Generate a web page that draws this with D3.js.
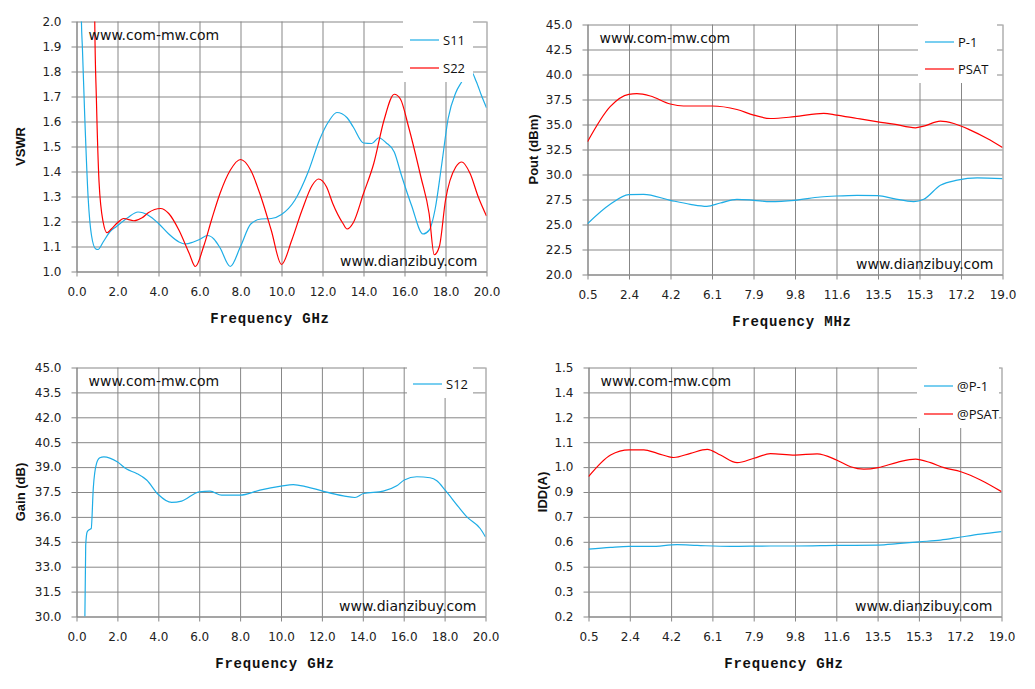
<!DOCTYPE html>
<html>
<head>
<meta charset="utf-8">
<script src="https://cdn.jsdelivr.net/npm/d3@7"></script>
<style>
body { margin: 0; background: #fff; }
svg { display: block; }
.tick text { font-family: "DejaVu Sans", sans-serif; font-size: 12px; fill: #222; }
.grid line, .axis line, .axis path { stroke: #878787; stroke-width: 1; }
.watermark { font-family: "DejaVu Sans", sans-serif; font-size: 14px; fill: #111; }
.legend-text { font-family: "Open Sans", sans-serif; font-size: 13px; fill: #111; }
.x-title { font-family: "Liberation Mono", monospace; font-weight: bold; font-size: 14px; letter-spacing: 0.8px; fill: #111; }
.y-title { font-family: "Liberation Sans", sans-serif; font-weight: bold; font-size: 13px; fill: #111; }
</style>
</head>
<body>
<div id="chart"></div>
<script>
// colours of the two series
var blue = "#1eade6";
var red = "#ff0000";

// ---- VSWR (top left) ----
var vswrTickLabels = ["0.0","2.0","4.0","6.0","8.0","10.0","12.0","14.0","16.0","18.0","20.0"];
var vswrYLabels = ["1.0","1.1","1.2","1.3","1.4","1.5","1.6","1.7","1.8","1.9","2.0"];
var s11Freq = [0.15,0.24,0.29,0.40,0.57,0.73,0.94,1.05,1.3,1.62,1.95,2.5,3.0,3.5,4.0,4.5,5.0,5.3,5.7,6.0,6.4,6.7,7.0,7.5,8.0,8.5,9.0,9.5,10.0,10.65,11.3,11.87,12.3,12.7,13.2,13.5,14.0,14.4,14.75,15.1,15.5,15.85,16.34,16.9,17.2,17.5,17.81,18.13,18.5,18.8,19.0,19.25,19.5,19.75,20.0];
var s11Vswr = [2.6,2.0,1.89,1.625,1.292,1.145,1.09,1.088,1.118,1.158,1.18,1.215,1.238,1.225,1.192,1.15,1.118,1.11,1.118,1.128,1.144,1.13,1.095,1.02,1.10,1.19,1.21,1.212,1.228,1.285,1.398,1.53,1.6,1.636,1.615,1.578,1.514,1.512,1.535,1.515,1.478,1.385,1.265,1.15,1.165,1.252,1.425,1.612,1.715,1.76,1.79,1.80,1.76,1.705,1.655];
var s22Freq = [0.85,0.89,0.97,1.1,1.3,1.49,1.7,2.0,2.3,2.8,3.2,3.5,4.1,4.5,5.0,5.5,5.8,6.2,6.6,7.0,7.5,8.0,8.5,9.0,9.5,10.0,10.5,11.0,11.5,11.8,12.2,12.5,13.0,13.2,13.5,14.0,14.5,15.0,15.5,15.8,16.2,16.8,17.2,17.45,17.7,18.0,18.5,18.8,19.2,19.6,20.0];
var s22Vswr = [2.6,2.0,1.692,1.358,1.198,1.155,1.17,1.195,1.212,1.203,1.215,1.235,1.252,1.232,1.165,1.072,1.02,1.10,1.21,1.312,1.405,1.448,1.405,1.298,1.165,1.028,1.125,1.245,1.345,1.37,1.338,1.272,1.192,1.17,1.195,1.312,1.432,1.605,1.709,1.69,1.578,1.378,1.232,1.067,1.10,1.285,1.418,1.438,1.392,1.298,1.222];

// ---- Pout (top right) ----
var mhzTickLabels = ["0.5","2.4","4.2","6.1","7.9","9.8","11.6","13.5","15.3","17.2","19.0"];
var poutYLabels = ["20.0","22.5","25.0","27.5","30.0","32.5","35.0","37.5","40.0","42.5","45.0"];
var psatFreq = [0.5,1.51,2.34,2.70,3.30,4.19,4.78,6.05,7.16,7.91,8.65,9.73,11.03,11.59,12.52,13.45,14.15,15.12,15.49,16.23,16.83,17.57,18.32,19.0];
var psatPout = [33.27,36.78,38.01,38.08,37.85,37.05,36.85,36.85,36.5,35.94,35.6,35.78,36.11,35.94,35.6,35.27,35.04,34.67,34.84,35.34,35.1,34.44,33.6,32.7];
var p1Freq = [0.5,1.51,2.34,3.0,4.19,5.08,5.82,6.42,7.16,7.91,8.65,9.73,10.88,11.59,12.52,13.45,14.15,15.04,15.49,16.23,16.98,17.87,19.0];
var p1Pout = [25.08,27.02,27.99,28.02,27.42,27.02,26.82,27.15,27.52,27.42,27.29,27.42,27.75,27.85,27.92,27.89,27.59,27.29,27.52,28.92,29.43,29.66,29.59];

// ---- Gain (bottom left) ----
var gainYLabels = ["30.0","31.5","33.0","34.5","36.0","37.5","39.0","40.5","42.0","43.5","45.0"];
var s12Freq = [0.41,0.45,0.52,0.62,0.72,0.82,0.98,1.14,1.34,1.99,2.45,2.94,3.43,4.0,4.65,5.14,6.0,6.53,7.1,7.99,8.97,10.0,10.6,11.26,12.0,13.05,13.62,14.03,15.0,15.66,16.03,16.64,17.29,17.62,18.03,18.68,19.09,19.74,20.0];
var s12Gain = [30.0,34.29,35.09,35.23,35.3,37.71,39.22,39.56,39.62,39.32,38.88,38.62,38.22,37.35,36.87,36.95,37.51,37.55,37.31,37.31,37.61,37.85,37.95,37.81,37.57,37.27,37.17,37.41,37.55,37.87,38.22,38.42,38.36,38.18,37.61,36.6,36.0,35.3,34.79];

// ---- IDD (bottom right) ----
var iddYLabels = ["0.2","0.3","0.5","0.6","0.7","0.9","1.0","1.1","1.2","1.4","1.5"];
var iddSatFreq = [0.5,1.49,2.32,2.98,3.58,4.32,5.07,5.82,6.41,7.16,7.91,8.65,9.74,10.74,11.61,12.24,12.83,13.48,14.33,15.15,15.82,16.42,17.18,18.06,19.0];
var iddSat = [0.930,1.043,1.070,1.070,1.052,1.030,1.052,1.073,1.043,1.003,1.026,1.050,1.043,1.049,1.017,0.982,0.969,0.977,1.005,1.022,1.003,0.977,0.956,0.913,0.852];
var iddP1Freq = [0.5,1.49,2.32,3.28,4.47,5.37,6.86,8.65,9.74,11.61,13.48,14.33,15.31,16.27,17.18,18.06,19.0];
var iddP1 = [0.552,0.561,0.566,0.566,0.575,0.571,0.566,0.568,0.568,0.571,0.573,0.580,0.590,0.599,0.615,0.630,0.643];

function zip(xs, ys) { return xs.map(function(d, i) { return [d, ys[i]]; }); }

var panels = [
  { id: "p1", left: 76.5, right: 486.5, top: 21.5, bottom: 271.5, xDomain: [0, 20], yDomain: [1, 2],
    xLabels: vswrTickLabels, yLabels: vswrYLabels, xTitle: "Frequency GHz", xTitleX: 270, yTitle: "VSWR", yTitleX: 20,
    series: [{ name: "S11", color: blue, data: zip(s11Freq, s11Vswr) }, { name: "S22", color: red, data: zip(s22Freq, s22Vswr) }],
    legend: { x: 403, w: 70, h: 61, lx: 410, ly: [40, 68] } },
  { id: "p2", left: 587.5, right: 1002.5, top: 24.5, bottom: 274.5, xDomain: [0.5, 19], yDomain: [20, 45],
    xLabels: mhzTickLabels, yLabels: poutYLabels, xTitle: "Frequency MHz", xTitleX: 792, yTitle: "Pout (dBm)", yTitleX: 533,
    series: [{ name: "P-1", color: blue, data: zip(p1Freq, p1Pout) }, { name: "PSAT", color: red, data: zip(psatFreq, psatPout) }],
    legend: { x: 918, w: 79, h: 59, lx: 925, ly: [42, 69] } },
  { id: "p3", left: 76.5, right: 485.5, top: 367.5, bottom: 616.5, xDomain: [0, 20], yDomain: [30, 45],
    xLabels: vswrTickLabels, yLabels: gainYLabels, xTitle: "Frequency GHz", xTitleX: 275, yTitle: "Gain (dB)", yTitleX: 20,
    series: [{ name: "S12", color: blue, data: zip(s12Freq, s12Gain) }],
    legend: { x: 407, w: 66, h: 31, lx: 413, ly: [384] } },
  { id: "p4", left: 588.5, right: 1001.5, top: 367.5, bottom: 616.5, xDomain: [0.5, 19], yDomain: [0.2, 1.5],
    xLabels: mhzTickLabels, yLabels: iddYLabels, xTitle: "Frequency GHz", xTitleX: 784, yTitle: "IDD(A)", yTitleX: 542,
    series: [{ name: "@P-1", color: blue, data: zip(iddP1Freq, iddP1) }, { name: "@PSAT", color: red, data: zip(iddSatFreq, iddSat) }],
    legend: { x: 917, w: 82, h: 61, lx: 924, ly: [386, 414] } }
];

var svg = d3.select("#chart").append("svg")
  .attr("width", 1035)
  .attr("height", 689);

// evenly spaced tick positions, one per label
function evenTicks(domain, labels) {
  var n = labels.length - 1;
  return labels.map(function(l, i) { return domain[0] + (domain[1] - domain[0]) * i / n; });
}

panels.forEach(function(p) {
  var width = p.right - p.left;
  var height = p.bottom - p.top;

  var xScale = d3.scaleLinear().domain(p.xDomain).range([0, width]);
  var yScale = d3.scaleLinear().domain(p.yDomain).range([height, 0]);
  var xTicks = evenTicks(p.xDomain, p.xLabels);
  var yTicks = evenTicks(p.yDomain, p.yLabels);

  var chartGroup = svg.append("g")
    .attr("transform", `translate(${p.left}, ${p.top})`);

  // gridlines
  chartGroup.append("g")
    .attr("class", "grid")
    .call(d3.axisLeft(yScale).tickValues(yTicks).tickSize(-width).tickFormat(""))
    .call(function(g) { g.select(".domain").remove(); });
  chartGroup.append("g")
    .attr("class", "grid")
    .attr("transform", `translate(0, ${height})`)
    .call(d3.axisBottom(xScale).tickValues(xTicks).tickSize(-height).tickFormat(""))
    .call(function(g) { g.select(".domain").remove(); });

  // axes with labels
  chartGroup.append("g")
    .attr("class", "axis")
    .call(d3.axisLeft(yScale).tickValues(yTicks).tickSize(5).tickSizeOuter(0).tickPadding(10)
      .tickFormat(function(d, i) { return p.yLabels[i]; }));
  chartGroup.append("g")
    .attr("class", "axis")
    .attr("transform", `translate(0, ${height})`)
    .call(d3.axisBottom(xScale).tickValues(xTicks).tickSize(5).tickSizeOuter(0).tickPadding(11)
      .tickFormat(function(d, i) { return p.xLabels[i]; }));

  // clip the curves to the plot area
  chartGroup.append("clipPath")
    .attr("id", "clip-" + p.id)
    .append("rect")
    .attr("width", width)
    .attr("height", height);

  var line = d3.line()
    .x(function(d) { return xScale(d[0]); })
    .y(function(d) { return yScale(d[1]); })
    .curve(d3.curveMonotoneX);

  chartGroup.append("g")
    .attr("clip-path", `url(#clip-${p.id})`)
    .selectAll("path")
    .data(p.series)
    .enter()
    .append("path")
    .attr("d", function(s) { return line(s.data); })
    .attr("fill", "none")
    .attr("stroke", function(s) { return s.color; })
    .attr("stroke-width", 1.2);

  // legend box covers the grid (and the curve behind it)
  var lg = p.legend;
  svg.append("rect")
    .attr("x", lg.x)
    .attr("y", p.top - 0.5)
    .attr("width", lg.w)
    .attr("height", lg.h)
    .attr("fill", "#fff");
  p.series.forEach(function(s, i) {
    svg.append("line")
      .attr("x1", lg.lx).attr("x2", lg.lx + 29)
      .attr("y1", lg.ly[i]).attr("y2", lg.ly[i])
      .attr("stroke", s.color)
      .attr("stroke-width", 1.2);
    svg.append("text")
      .attr("class", "legend-text")
      .attr("x", lg.lx + 33)
      .attr("y", lg.ly[i] + 5)
      .text(s.name);
  });

  // watermarks
  svg.append("text")
    .attr("class", "watermark")
    .attr("x", p.left + 12)
    .attr("y", p.top + 18)
    .text("www.com-mw.com");
  svg.append("text")
    .attr("class", "watermark")
    .attr("x", p.right - 9)
    .attr("y", p.bottom - 6)
    .attr("text-anchor", "end")
    .text("www.dianzibuy.com");

  // axis titles
  svg.append("text")
    .attr("class", "x-title")
    .attr("x", p.xTitleX)
    .attr("y", p.bottom + 51)
    .attr("text-anchor", "middle")
    .text(p.xTitle);
  svg.append("text")
    .attr("class", "y-title")
    .attr("transform", `translate(${p.yTitleX + 4.5}, ${p.top + height / 2}) rotate(-90)`)
    .attr("text-anchor", "middle")
    .text(p.yTitle);
});
</script>
</body>
</html>
